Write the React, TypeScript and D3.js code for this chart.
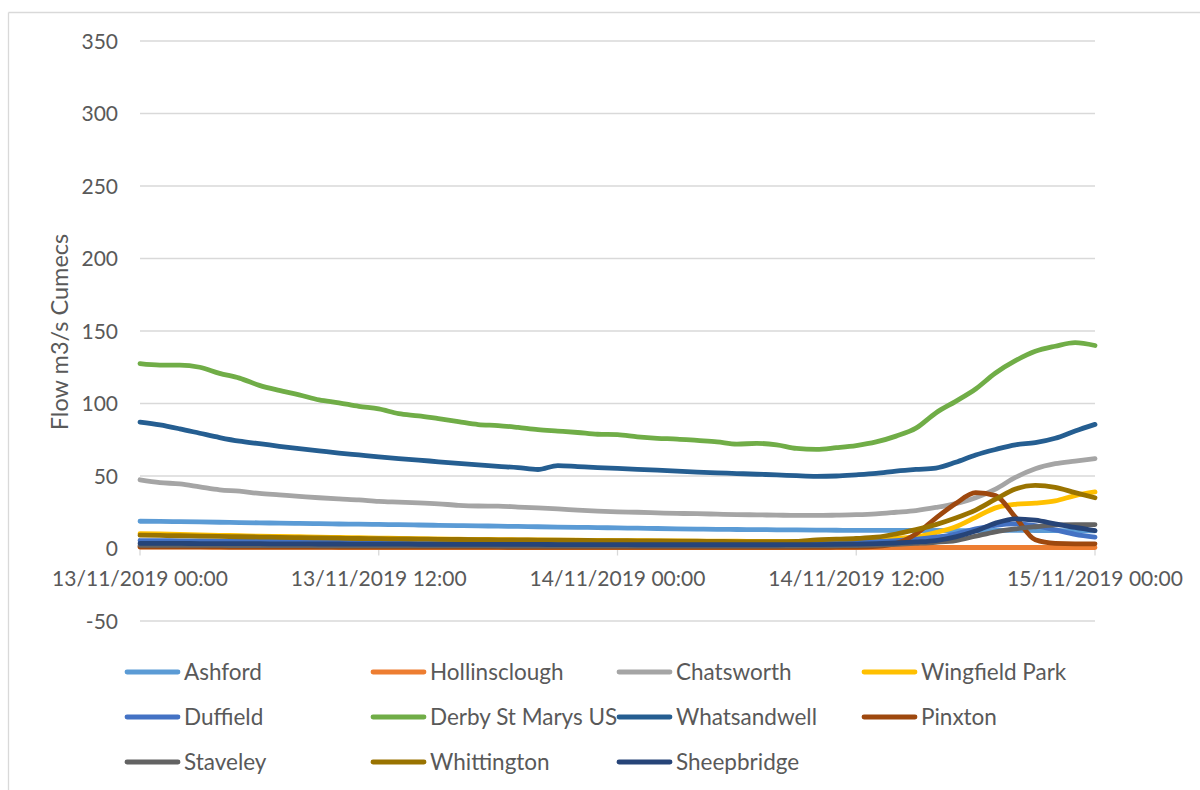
import React from "react";
import * as d3 from "d3";

const START = Date.UTC(2019, 10, 13, 0, 0);
const HOURS: number[] = Array.from({ length: 49 }, (_, i) => i);

const ashford = [18.8,18.7,18.5,18.3,18.1,17.9,17.7,17.5,17.3,17.1,16.9,16.8,16.6,16.4,16.2,16,15.8,15.6,15.4,15.2,15,14.8,14.6,14.4,14.2,14,13.8,13.6,13.4,13.2,13.1,13,12.9,12.8,12.7,12.6,12.5,12.5,12.4,12.4,12.4,12.3,12.3,12.4,12.5,12.4,12.3,12.2,12.1];
const hollinsclough = [0.9,0.9,0.9,0.9,0.8,0.8,0.8,0.8,0.8,0.8,0.7,0.7,0.7,0.7,0.7,0.7,0.7,0.7,0.7,0.7,0.6,0.6,0.6,0.6,0.6,0.6,0.6,0.6,0.6,0.6,0.6,0.6,0.6,0.6,0.6,0.6,0.6,0.6,0.7,0.7,0.7,0.7,0.7,0.7,0.7,0.7,0.7,0.7,0.7];
const chatsworth = [47.4,45.5,44.5,42.5,40.5,39.5,38,37,36,35,34.2,33.5,32.5,32,31.5,30.8,29.8,29.3,29.2,28.6,28,27.3,26.5,25.8,25.3,25,24.6,24.2,24,23.7,23.4,23.2,23,22.8,22.8,23,23.3,23.9,25,26.2,28.3,31,35,41,49,55,58.5,60.3,62];
const wingfieldPark = [10.3,10,9.7,9.4,9.1,8.8,8.5,8.3,8.1,7.9,7.6,7.4,7.2,7,6.8,6.6,6.4,6.3,6.1,6,5.9,5.8,5.7,5.6,5.5,5.4,5.3,5.2,5.1,5,5,4.9,4.9,4.9,5,5.2,5.5,6,7,8,11,15,21.5,28,30.5,31.3,32.8,36.5,39];
const duffield = [5.5,5.4,5.3,5.2,5.1,5,5,4.9,4.8,4.8,4.7,4.6,4.6,4.5,4.5,4.4,4.4,4.3,4.3,4.2,4.2,4.1,4.1,4,4,4,3.9,3.9,3.9,3.8,3.8,3.8,3.8,3.8,3.9,4,4.3,4.8,5.5,6.5,7.8,10,13.5,16,17,15.8,12.8,9.8,7.8];
const derbyStMarys = [127.5,126.5,126.5,125,120.8,117.5,112.5,109,106,102.5,100.5,98,96.3,93,91.5,89.5,87.5,85.5,84.8,83.5,82,81,80,78.8,78.5,77,76,75.5,74.5,73.5,72,72.5,71.5,69,68.3,69.5,71,73.5,77.5,83,93.5,101.5,110,121,129.5,136,139.5,142,140];
const whatsandwell = [87.2,85.2,82.5,79.5,76.5,74,72.3,70.5,68.8,67.3,65.8,64.5,63.2,62,61,59.8,58.7,57.7,56.7,55.8,54.5,57.2,56.5,55.8,55.2,54.6,54,53.3,52.7,52.2,51.7,51.2,50.8,50.2,49.8,50,50.8,51.8,53.3,54.5,55.5,59.5,64.5,68.3,71.5,73,76,81,85.6];
const pinxton = [1.2,1.2,1.1,1.1,1.1,1,1,1,1,1,1,0.9,0.9,0.9,0.9,0.9,0.9,0.9,0.9,0.8,0.8,0.8,0.8,0.8,0.8,0.8,0.8,0.8,0.8,0.8,0.8,0.8,0.8,0.8,0.8,0.9,1,1.5,3.5,10,21,31,38.5,36.5,21.6,6,3.5,3.2,3.2];
const staveley = [2.2,2.2,2.1,2.1,2.1,2,2,2,2,1.9,1.9,1.9,1.9,1.8,1.8,1.8,1.8,1.8,1.7,1.7,1.7,1.7,1.7,1.7,1.6,1.6,1.6,1.6,1.6,1.6,1.6,1.6,1.7,1.7,1.8,1.9,2,2.3,2.8,3.5,4.3,5.5,8.5,11.5,13.5,15,16.3,16.5,16.5];
const whittington = [9.2,9,8.8,8.5,8.3,8.1,7.9,7.7,7.5,7.3,7.1,6.9,6.8,6.6,6.5,6.3,6.2,6.1,6,5.9,5.8,5.7,5.6,5.5,5.4,5.3,5.2,5.1,5,4.9,4.8,4.8,4.7,4.9,6,6.4,6.9,7.8,10,13,16.5,21,26.5,34,41,43.5,42.2,38.5,35];
const sheepbridge = [3.6,3.5,3.5,3.4,3.4,3.3,3.3,3.2,3.2,3.1,3.1,3,3,3,2.9,2.9,2.9,2.8,2.8,2.8,2.8,2.7,2.7,2.7,2.7,2.6,2.6,2.6,2.6,2.6,2.6,2.6,2.6,2.7,2.7,2.8,3,3.3,3.8,4.5,5.5,8,12,17.5,20.5,19.5,17,14.5,12.3];

const seriesNames = ["Ashford","Hollinsclough","Chatsworth","Wingfield Park","Duffield","Derby St Marys US","Whatsandwell","Pinxton","Staveley","Whittington","Sheepbridge"];
const seriesValues = [ashford, hollinsclough, chatsworth, wingfieldPark, duffield, derbyStMarys, whatsandwell, pinxton, staveley, whittington, sheepbridge];
const seriesColors = ["#5B9BD5","#ED7D31","#A5A5A5","#FFC000","#4472C4","#70AD47","#255E91","#9E480E","#636363","#997300","#264478"];

const yTicks = [-50, 0, 50, 100, 150, 200, 250, 300, 350];
const xTickHours = [0, 12, 24, 36, 48];
const yTitle = "Flow m3/s Cumecs";

const FONT = "Lato, 'Open Sans', sans-serif";
const TEXT = "#595959";
const GRID = "#D9D9D9";

export default function App() {
  const x = d3.scaleUtc()
    .domain([new Date(START), new Date(START + 48 * 3600e3)])
    .range([140, 1095]);
  const y = d3.scaleLinear().domain([-50, 350]).range([621, 41]);
  const fmt = d3.utcFormat("%d/%m/%Y %H:%M");
  const dates = HOURS.map((h) => new Date(START + h * 3600e3));
  const line = d3.line<number>()
    .x((_, i) => x(dates[i]))
    .y((v) => y(v))
    .curve(d3.curveMonotoneX);

  const legendCols = [125, 371, 617, 862];
  const legendRows = [672, 717, 762];

  return (
    <svg width={1200} height={790} style={{ position: "absolute", left: 0, top: 0, background: "#fff" }}>
      <rect x={0} y={0} width={1200} height={790} fill="#fff" />
      <line x1={8.5} y1={12.5} x2={1200} y2={12.5} stroke={GRID} strokeWidth={1.3} />
      <line x1={8.5} y1={12.5} x2={8.5} y2={790} stroke={GRID} strokeWidth={1.3} />
      {yTicks.map((t) => (
        <g key={t}>
          {t !== 0 && (
            <line x1={140} x2={1095} y1={y(t)} y2={y(t)} stroke={GRID} strokeWidth={1.3} />
          )}
          <text x={118} y={y(t)} dy="0.36em" textAnchor="end" fontFamily={FONT} fontSize={21} fill={TEXT}>
            {t}
          </text>
        </g>
      ))}
      <line x1={140} x2={1095} y1={y(0)} y2={y(0)} stroke={GRID} strokeWidth={1.3} />
      {xTickHours.map((h) => {
        const d = new Date(START + h * 3600e3);
        return (
          <g key={h}>
            <line x1={x(d)} x2={x(d)} y1={y(0)} y2={y(0) + 7} stroke={GRID} strokeWidth={1.3} />
            <text x={x(d)} y={586} textAnchor="middle" fontFamily={FONT} fontSize={21} fill={TEXT}>
              {fmt(d)}
            </text>
          </g>
        );
      })}
      <text
        transform={`translate(68,332) rotate(-90)`}
        textAnchor="middle"
        fontFamily={FONT}
        fontSize={23.5}
        fill={TEXT}
      >
        {yTitle}
      </text>
      {seriesValues.map((vals, i) => (
        <path
          key={seriesNames[i]}
          d={line(vals) || ""}
          fill="none"
          stroke={seriesColors[i]}
          strokeWidth={4.8}
          strokeLinejoin="round"
          strokeLinecap="round"
        />
      ))}
      {seriesNames.map((name, i) => {
        const cx = legendCols[i % 4];
        const cy = legendRows[Math.floor(i / 4)];
        return (
          <g key={name}>
            <line x1={cx + 2} x2={cx + 53} y1={cy} y2={cy} stroke={seriesColors[i]} strokeWidth={4.8} strokeLinecap="round" />
            <text x={cx + 59} y={cy} dy="0.36em" fontFamily={FONT} fontSize={22.5} fill={TEXT}>
              {name}
            </text>
          </g>
        );
      })}
    </svg>
  );
}
